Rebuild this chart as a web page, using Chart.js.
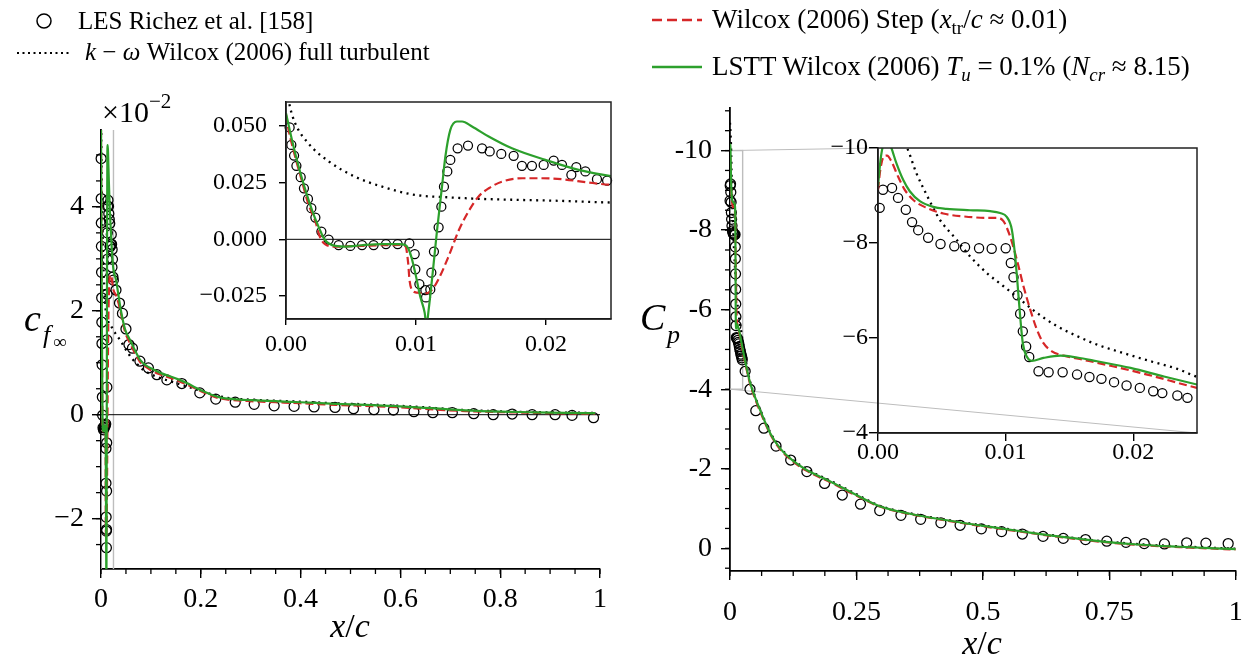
<!DOCTYPE html>
<html>
<head>
<meta charset="utf-8">
<script src="https://cdn.jsdelivr.net/npm/chart.js@4.4.0/dist/chart.umd.min.js"></script>
<style>
  html, body { margin: 0; padding: 0; background: #fff; }
  #page { position: relative; width: 1242px; height: 660px; overflow: hidden;
          font-family: 'Liberation Serif', 'DejaVu Serif', serif; color: #000; }
  canvas { position: absolute; left: 0; top: 0; }
  .t { position: absolute; white-space: nowrap; line-height: 1; }
  .leg { font-size: 25px; }
  .legr { font-size: 27px; }
  .t sub { font-size: 0.7em; vertical-align: -0.3em; line-height: 0; }
  i { font-style: italic; }
</style>
</head>
<body>
<div id="page">
  <canvas id="cfMain" width="1242" height="660"></canvas>
  <canvas id="cpMain" width="1242" height="660"></canvas>
  <canvas id="cfInset" width="1242" height="660"></canvas>
  <canvas id="cpInset" width="1242" height="660"></canvas>

  <!-- legend markers -->
  <svg style="position:absolute;left:0;top:0" width="1242" height="90">
    <circle cx="44" cy="21" r="7" fill="none" stroke="#000" stroke-width="1.5"/>
    <line x1="17" y1="53" x2="72" y2="53" stroke="#000" stroke-width="2.2" stroke-dasharray="2 3.5"/>
    <line x1="652" y1="20" x2="702" y2="20" stroke="#d62728" stroke-width="2.4" stroke-dasharray="10 5"/>
    <line x1="652" y1="67" x2="702" y2="67" stroke="#2ca02c" stroke-width="2.4"/>
  </svg>
  <div class="t leg" style="left:78px;top:8px">LES Richez et al. [158]</div>
  <div class="t leg" style="left:85px;top:39px"><i>k</i> − <i>ω</i> Wilcox (2006) full turbulent</div>
  <div class="t legr" style="left:712px;top:6px">Wilcox (2006) Step (<i>x</i><sub>tr</sub>/<i>c</i> ≈ 0.01)</div>
  <div class="t legr" style="left:712px;top:53px">LSTT Wilcox (2006) <i>T<sub>u</sub></i> = 0.1% (<i>N<sub>cr</sub></i> ≈ 8.15)</div>

  <!-- axis titles -->
  <div class="t" style="left:102px;top:97px;font-size:30px">×10</div>
  <div class="t" style="left:149px;top:91px;font-size:21px">−2</div>
  <div class="t" style="left:24px;top:299px;font-size:38px"><i>c</i></div>
  <div class="t" style="left:43px;top:322px;font-size:26px"><i>f</i></div>
  <div class="t" style="left:53px;top:332px;font-size:19px">∞</div>
  <div class="t" style="left:640px;top:298px;font-size:38px"><i>C</i></div>
  <div class="t" style="left:667px;top:322px;font-size:26px"><i>p</i></div>
  <div class="t" style="left:350px;top:609px;font-size:34px;transform:translateX(-50%)"><i>x</i>/<i>c</i></div>
  <div class="t" style="left:982px;top:626px;font-size:34px;transform:translateX(-50%)"><i>x</i>/<i>c</i></div>
</div>

<script>
// ---------- skin friction c_f (real units) vs x/c ----------
const cfLesX = [0.00028, 0.00041, 0.00062, 0.0008, 0.00113, 0.00138, 0.00169, 0.00195, 0.00226, 0.00272,
  0.00328, 0.00405, 0.00495, 0.00585, 0.00674, 0.00769, 0.00859, 0.00949, 0.0099, 0.00995,
  0.01026, 0.01072, 0.01077, 0.0111, 0.01118, 0.01138, 0.01174, 0.01195, 0.01215, 0.01241,
  0.01264, 0.0132, 0.014, 0.01508, 0.01567, 0.01656, 0.01751, 0.01815, 0.01892, 0.01982,
  0.02059, 0.02123, 0.02195, 0.02233, 0.02303, 0.02392, 0.0247,
  0.03, 0.037, 0.043, 0.05, 0.056, 0.063, 0.078, 0.095, 0.112, 0.132, 0.162, 0.198, 0.23, 0.269,
  0.307, 0.347, 0.387, 0.427, 0.469, 0.506, 0.547, 0.586, 0.627, 0.665, 0.704, 0.747, 0.786,
  0.824, 0.864, 0.91, 0.944, 0.987];
const cfLesY = [0.0493, 0.0416, 0.0369, 0.0324, 0.0274, 0.0225, 0.0178, 0.0137, 0.0096, 0.0034,
  -0.0001, -0.0025, -0.0029, -0.0025, -0.0025, -0.0021, -0.0021, -0.0018, -0.0065, -0.0132,
  -0.0197, -0.0224, -0.0256, -0.0221, -0.0147, -0.0054, 0.0053, 0.0144, 0.0232, 0.0299,
  0.035, 0.0401, 0.0413, 0.0401, 0.0387, 0.0376, 0.0368, 0.0324, 0.0324, 0.0328,
  0.0347, 0.0328, 0.0284, 0.0318, 0.0299, 0.0265, 0.0259,
  0.024, 0.0215, 0.0195, 0.0165, 0.0135, 0.0128, 0.0103, 0.009, 0.0077, 0.0067, 0.006, 0.0042, 0.003, 0.0024,
  0.002, 0.0017, 0.0016, 0.0015, 0.0014, 0.00115, 0.00096, 0.0009, 0.00058, 0.00038, 0.00038, 0.00019, 0.0,
  0.00013, 0.0, 0.0, -0.00013, -0.00058];

const cfLsttX = [0, 0.00046, 0.00097, 0.00149, 0.002, 0.0025, 0.003, 0.0038, 0.0046, 0.0058,
  0.0074, 0.0087, 0.0092, 0.00956, 0.00995, 0.01033, 0.01067, 0.0108, 0.01097, 0.01128,
  0.01162, 0.012, 0.01226, 0.01264, 0.01315, 0.01354, 0.01431, 0.01559, 0.01738, 0.01995,
  0.02251, 0.025,
  0.03, 0.035, 0.04, 0.048, 0.058, 0.07, 0.078, 0.09, 0.105, 0.12, 0.138, 0.155, 0.172, 0.19,
  0.205, 0.22, 0.24, 0.265, 0.3, 0.35, 0.4, 0.47, 0.53, 0.6, 0.67, 0.73, 0.8, 0.87, 0.93, 0.99];
const cfLsttY = [0.0556, 0.0438, 0.0321, 0.0218, 0.0129, 0.0056, -0.0003, -0.0029, -0.0032, -0.0026,
  -0.0021, -0.0021, -0.0026, -0.0062, -0.015, -0.0253, -0.0324, -0.038, -0.0312, -0.015,
  0.0041, 0.0232, 0.0365, 0.0482, 0.0519, 0.0519, 0.0497, 0.0453, 0.0401, 0.035,
  0.0306, 0.0279,
  0.026, 0.023, 0.02, 0.0165, 0.0144, 0.012, 0.0106, 0.0095, 0.0087, 0.008, 0.0074, 0.0068, 0.0061, 0.0052,
  0.0045, 0.0039, 0.0033, 0.003, 0.0028, 0.0026, 0.0024, 0.0021, 0.0019, 0.0016, 0.0012, 0.00085, 0.0006,
  0.00045, 0.00035, 0.0003];

const cfStepX = [0, 0.0002, 0.0007, 0.0012, 0.0017, 0.0023, 0.0026, 0.003, 0.0038, 0.0058,
  0.0074, 0.0089, 0.0092, 0.0094, 0.0095, 0.0097, 0.0101, 0.0107, 0.0112, 0.0117,
  0.0125, 0.0133, 0.0141, 0.0148, 0.0156, 0.0166, 0.0182, 0.0197, 0.0212, 0.0233, 0.025,
  0.03, 0.035, 0.04, 0.048, 0.058, 0.07, 0.078, 0.09, 0.105, 0.12, 0.138, 0.155, 0.172, 0.19,
  0.205, 0.22, 0.24, 0.265, 0.3, 0.35, 0.4, 0.47, 0.53, 0.6, 0.67, 0.73, 0.8, 0.87, 0.93, 0.99];
const cfStepY = [0.0549, 0.0482, 0.0365, 0.0262, 0.0159, 0.0071, 0.0012, -0.0021, -0.0032, -0.0029,
  -0.0026, -0.0025, -0.0032, -0.0106, -0.0179, -0.0224, -0.0235, -0.0238, -0.0224, -0.0179,
  -0.0076, 0.0041, 0.0129, 0.0188, 0.0225, 0.0254, 0.0269, 0.0269, 0.0265, 0.025, 0.024,
  0.023, 0.0215, 0.0195, 0.016, 0.0138, 0.0115, 0.0102, 0.0092, 0.0083, 0.0077, 0.0071, 0.0065, 0.0058, 0.005,
  0.0043, 0.0037, 0.0031, 0.0028, 0.0026, 0.0024, 0.0022, 0.0019, 0.0017, 0.0014, 0.001, 0.0007, 0.0005,
  0.00035, 0.00025, 0.0002];

const cfFullX = [0, 0.0003, 0.0007, 0.0017, 0.0033, 0.0053, 0.0074, 0.0099, 0.0125, 0.0151,
  0.0176, 0.0202, 0.0228, 0.025,
  0.03, 0.038, 0.05, 0.062, 0.075, 0.085, 0.1, 0.12, 0.14, 0.16, 0.18, 0.2, 0.22, 0.24, 0.265,
  0.3, 0.35, 0.4, 0.47, 0.53, 0.6, 0.67, 0.73, 0.8, 0.87, 0.93, 0.99];
const cfFullY = [0.068, 0.0585, 0.0512, 0.0424, 0.0343, 0.0276, 0.0232, 0.0196, 0.0185, 0.0178,
  0.0174, 0.0171, 0.0166, 0.0162,
  0.0155, 0.0144, 0.0125, 0.0108, 0.0095, 0.0086, 0.0078, 0.007, 0.0064, 0.0058, 0.0052, 0.0046, 0.004,
  0.0035, 0.0031, 0.0029, 0.0027, 0.0025, 0.0022, 0.002, 0.0017, 0.0013, 0.0009, 0.00065, 0.0005,
  0.0004, 0.00035];

// ---------- pressure coefficient C_p vs x/c ----------
const cpLesX = [0.00013, 0.00039, 0.0011, 0.00157, 0.00218, 0.00267, 0.00315, 0.00393, 0.0049, 0.00598,
  0.00682, 0.00792, 0.00891, 0.01001, 0.01041, 0.01062, 0.01093, 0.01114, 0.01135, 0.01161,
  0.01185, 0.01258, 0.01337, 0.01447, 0.0156, 0.01657, 0.01751, 0.0185, 0.01948, 0.02052,
  0.02157, 0.02228, 0.02346, 0.02425,
  0.03, 0.0395, 0.051, 0.067, 0.091, 0.12, 0.152, 0.187, 0.222, 0.258, 0.296, 0.338, 0.377, 0.417,
  0.455, 0.497, 0.537, 0.578, 0.619, 0.659, 0.703, 0.745, 0.783, 0.819, 0.859, 0.903, 0.941, 0.985];
const cpLesY = [-8.74, -9.12, -9.16, -8.95, -8.70, -8.44, -8.27, -8.11, -7.98, -7.93,
  -7.91, -7.89, -7.88, -7.89, -7.58, -7.28, -6.90, -6.51, -6.14, -5.82,
  -5.60, -5.30, -5.28, -5.28, -5.23, -5.18, -5.14, -5.07, -5.0, -4.95,
  -4.88, -4.84, -4.79, -4.74,
  -4.45, -4.0, -3.46, -3.02, -2.57, -2.22, -1.93, -1.63, -1.34, -1.11, -0.95, -0.83, -0.73, -0.64,
  -0.58, -0.49, -0.42, -0.36, -0.30, -0.25, -0.22, -0.18, -0.15, -0.12, -0.11, -0.14, -0.13, -0.12];

const cpLsttX = [0, 0.0002, 0.0004, 0.0008, 0.00105, 0.00144, 0.00197, 0.00249, 0.00328, 0.00433,
  0.00537, 0.00721, 0.00878, 0.00957, 0.01009, 0.01049, 0.01075, 0.01093, 0.01114, 0.01135,
  0.01166, 0.01206, 0.01297, 0.01429, 0.0156, 0.01717, 0.01979, 0.02241, 0.025,
  0.03, 0.04, 0.05, 0.06, 0.08, 0.1, 0.125, 0.15, 0.2, 0.244, 0.296, 0.356, 0.432, 0.508,
  0.585, 0.661, 0.737, 0.813, 0.889, 0.96, 1.0];
const cpLsttY = [-9.2, -9.75, -10.05, -10.15, -10.0, -9.68, -9.33, -9.09, -8.88, -8.76,
  -8.72, -8.69, -8.67, -8.63, -8.55, -8.28, -7.72, -7.16, -6.46, -5.89,
  -5.61, -5.52, -5.58, -5.63, -5.59, -5.51, -5.37, -5.19, -5.02,
  -4.7, -4.15, -3.78, -3.46, -2.88, -2.5, -2.2, -1.98, -1.67, -1.38, -1.06, -0.87, -0.7, -0.55,
  -0.41, -0.28, -0.17, -0.09, -0.04, 0.0, 0.02];

const cpStepX = [0, 0.00018, 0.00045, 0.00071, 0.00105, 0.00157, 0.0021, 0.00275, 0.0038, 0.00511,
  0.00668, 0.00852, 0.0093, 0.00983, 0.01035, 0.01088, 0.0114, 0.01193, 0.01245, 0.01297,
  0.01363, 0.01455, 0.01612, 0.01848, 0.0211, 0.025,
  0.03, 0.04, 0.05, 0.06, 0.08, 0.1, 0.125, 0.15, 0.2, 0.244, 0.296, 0.356, 0.432, 0.508,
  0.585, 0.661, 0.737, 0.813, 0.889, 0.96, 1.0];
const cpStepY = [-9.12, -9.54, -9.82, -9.84, -9.72, -9.4, -9.12, -8.91, -8.74, -8.62,
  -8.56, -8.53, -8.53, -8.46, -8.14, -7.65, -7.09, -6.6, -6.18, -5.89,
  -5.72, -5.63, -5.54, -5.4, -5.23, -4.95,
  -4.66, -4.12, -3.75, -3.43, -2.86, -2.48, -2.18, -1.96, -1.65, -1.36, -1.05, -0.86, -0.69, -0.54,
  -0.4, -0.27, -0.16, -0.08, -0.03, 0.01, 0.03];

const cpFullX = [0, 0.001, 0.0018, 0.00228, 0.00301, 0.0038, 0.00485, 0.00616, 0.00721, 0.00852,
  0.00983, 0.01114, 0.01245, 0.01402, 0.0156, 0.01717, 0.01927, 0.02136, 0.02346, 0.025,
  0.03, 0.04, 0.05, 0.06, 0.08, 0.1, 0.125, 0.15, 0.2, 0.244, 0.296, 0.356, 0.432, 0.508,
  0.585, 0.661, 0.737, 0.813, 0.889, 0.96, 1.0];
const cpFullY = [-10.7, -10.45, -10.2, -10.0, -9.47, -9.02, -8.49, -8.07, -7.72, -7.37,
  -7.09, -6.81, -6.53, -6.25, -6.04, -5.86, -5.68, -5.51, -5.35, -5.18,
  -4.8, -4.18, -3.8, -3.48, -2.9, -2.52, -2.22, -2.0, -1.69, -1.4, -1.07, -0.88, -0.71, -0.56,
  -0.42, -0.29, -0.18, -0.1, -0.05, -0.01, 0.01];

// ---------- ticks ----------
const cfMainXTicks = [0, 0.2, 0.4, 0.6, 0.8, 1];
const cfMainXLabels = ['0', '0.2', '0.4', '0.6', '0.8', '1'];
const cfMainYTicks = [-2, 0, 2, 4];
const cfMainYLabels = ['−2', '0', '2', '4'];
const cfInsetXTicks = [0, 0.01, 0.02];
const cfInsetXLabels = ['0.00', '0.01', '0.02'];
const cfInsetYTicks = [-0.025, 0, 0.025, 0.05];
const cfInsetYLabels = ['−0.025', '0.000', '0.025', '0.050'];
const cpMainXTicks = [0, 0.25, 0.5, 0.75, 1];
const cpMainXLabels = ['0', '0.25', '0.5', '0.75', '1'];
const cpMainYTicks = [-10, -8, -6, -4, -2, 0];
const cpMainYLabels = ['-10', '-8', '-6', '-4', '-2', '0'];
const cpInsetXTicks = [0, 0.01, 0.02];
const cpInsetXLabels = ['0.00', '0.01', '0.02'];
const cpInsetYTicks = [-10, -8, -6, -4];
const cpInsetYLabels = ['−10', '−8', '−6', '−4'];

// ---------- layout ----------
const W = 1242, H = 660;
const SERIF = "'Liberation Serif', 'DejaVu Serif', serif";
const GREEN = '#2ca02c', RED = '#d62728', GREY = '#bdbdbd';
const BOX_CF = { l: 101, t: 130, r: 600, b: 569 };
const BOX_CF_IN = { l: 286, t: 102, r: 611, b: 319 };
const BOX_CP = { l: 730, t: 108, r: 1236, b: 571 };
const BOX_CP_IN = { l: 878, t: 148, r: 1197, b: 433 };

function steps(a, b, s) {
  const out = [];
  for (let v = a; v <= b + 1e-9; v += s) out.push(+v.toFixed(6));
  return out;
}
function pts(xs, ys, k) { return xs.map((x, i) => ({ x, y: ys[i] * k })); }

function lineSet(label, xs, ys, k, color, width, dash) {
  return { label, data: pts(xs, ys, k), showLine: true, borderColor: color, borderWidth: width,
    borderDash: dash, pointRadius: 0, pointHoverRadius: 0, fill: false, clip: 0,
    cubicInterpolationMode: 'monotone' };
}
function lesSet(xs, ys, k, r) {
  return { label: 'LES Richez et al. [158]', data: pts(xs, ys, k), showLine: false, pointRadius: r,
    pointBorderWidth: 1.25, pointBorderColor: '#000', pointBackgroundColor: 'rgba(0,0,0,0)',
    borderColor: '#000', clip: false };
}
function seriesFor(set, k, r, lw) {
  return [
    lineSet('LSTT', set.lstt[0], set.lstt[1], k, GREEN, lw, []),
    lineSet('Step', set.step[0], set.step[1], k, RED, lw, [8, 4]),
    lineSet('Full turbulent', set.full[0], set.full[1], k, '#000', 2.3, [2, 4.5]),
    lesSet(set.les[0], set.les[1], k, r)
  ];
}

function axis(a, horizontal, size) {
  return {
    type: 'linear', min: a.min, max: a.max, reverse: !!a.reverse,
    afterBuildTicks: s => { s.ticks = a.ticks.map(v => ({ value: v })); },
    afterFit: s => {
      if (horizontal) s.height = size; else s.width = size;
      s.paddingLeft = s.paddingRight = s.paddingTop = s.paddingBottom = 0;
    },
    ticks: { autoSkip: false, maxRotation: 0, minRotation: 0, padding: a.pad, color: '#000',
      font: { family: SERIF, size: a.font, lineHeight: 1 },
      callback: (v, i) => a.labels[i] },
    grid: { drawOnChartArea: false, drawTicks: true, tickLength: a.tick, color: '#000', lineWidth: 1.4 },
    border: { display: true, color: '#000', width: a.border || 1.6 }
  };
}

function extras(o) {
  return {
    id: 'extras',
    beforeDatasetsDraw(chart) {
      const { ctx, chartArea: a } = chart;
      const x = chart.scales.x, y = chart.scales.y;
      ctx.save();
      if (o.connect) {
        ctx.strokeStyle = GREY; ctx.lineWidth = 1;
        o.connect.forEach(c => {
          ctx.beginPath();
          ctx.moveTo(x.getPixelForValue(c.x), y.getPixelForValue(c.y));
          ctx.lineTo(c.px, c.py);
          ctx.stroke();
        });
      }
      ctx.beginPath();
      ctx.rect(a.left, a.top, a.right - a.left, a.bottom - a.top);
      ctx.clip();
      if (o.zoomRect) {
        const r = o.zoomRect;
        const x0 = x.getPixelForValue(r.x0), x1 = x.getPixelForValue(r.x1);
        const y0 = y.getPixelForValue(r.y0), y1 = y.getPixelForValue(r.y1);
        ctx.strokeStyle = GREY; ctx.lineWidth = 1.4;
        ctx.strokeRect(Math.min(x0, x1), Math.min(y0, y1), Math.abs(x1 - x0), Math.abs(y1 - y0));
      }
      if (o.zeroLine) {
        const py = y.getPixelForValue(0);
        ctx.strokeStyle = '#000'; ctx.lineWidth = 1;
        ctx.beginPath(); ctx.moveTo(a.left, py); ctx.lineTo(a.right, py); ctx.stroke();
      }
      ctx.restore();
    },
    afterDraw(chart) {
      const { ctx, chartArea: a } = chart;
      const x = chart.scales.x, y = chart.scales.y;
      ctx.save();
      ctx.strokeStyle = '#000'; ctx.lineWidth = 1.3;
      (o.x.minor || []).forEach(v => {
        if (v < x.min || v > x.max) return;
        const px = x.getPixelForValue(v);
        ctx.beginPath(); ctx.moveTo(px, a.bottom); ctx.lineTo(px, a.bottom + o.x.minorLen); ctx.stroke();
      });
      (o.y.minor || []).forEach(v => {
        if (v < y.min || v > y.max) return;
        const py = y.getPixelForValue(v);
        ctx.beginPath(); ctx.moveTo(a.left - o.y.minorLen, py); ctx.lineTo(a.left, py); ctx.stroke();
      });
      if (o.frame) {
        ctx.strokeStyle = '#222'; ctx.lineWidth = o.frame;
        ctx.strokeRect(a.left, a.top, a.right - a.left, a.bottom - a.top);
      }
      ctx.restore();
    }
  };
}

function makeChart(id, box, o) {
  return new Chart(document.getElementById(id), {
    type: 'scatter',
    data: { datasets: o.datasets },
    options: {
      responsive: false, animation: false, devicePixelRatio: 1, events: [],
      layout: { padding: { left: box.l - o.yW, top: box.t, right: W - box.r, bottom: H - box.b - o.xH } },
      plugins: { legend: { display: false }, tooltip: { enabled: false } },
      scales: { x: axis(o.x, true, o.xH), y: axis(o.y, false, o.yW) }
    },
    plugins: [extras(o)]
  });
}

const cfSet = { les: [cfLesX, cfLesY], lstt: [cfLsttX, cfLsttY], step: [cfStepX, cfStepY], full: [cfFullX, cfFullY] };
const cpSet = { les: [cpLesX, cpLesY], lstt: [cpLsttX, cpLsttY], step: [cpStepX, cpStepY], full: [cpFullX, cpFullY] };

// c_f main panel (plotted in units of 1e-2)
makeChart('cfMain', BOX_CF, {
  yW: 70, xH: 60,
  x: { min: 0, max: 1, ticks: cfMainXTicks, labels: cfMainXLabels, font: 28, pad: 8, tick: 9,
       minor: steps(0, 1, 0.05), minorLen: 5, border: 1.8 },
  y: { min: -2.97, max: 5.48, ticks: cfMainYTicks, labels: cfMainYLabels, font: 28, pad: 8, tick: 9,
       minor: steps(-3, 5.5, 0.5), minorLen: 5, border: 1.8 },
  zeroLine: true,
  zoomRect: { x0: 0, x1: 0.025, y0: -3.51, y1: 6.05 },
  datasets: seriesFor(cfSet, 100, 5, 2.2)
});

// C_p main panel
makeChart('cpMain', BOX_CP, {
  yW: 80, xH: 60,
  x: { min: 0, max: 1, ticks: cpMainXTicks, labels: cpMainXLabels, font: 28, pad: 19, tick: 9,
       minor: steps(0, 1, 0.0625), minorLen: 5, border: 1.8 },
  y: { min: -11.07, max: 0.57, reverse: true, ticks: cpMainYTicks, labels: cpMainYLabels, font: 28, pad: 9, tick: 9,
       minor: steps(-11, 0.5, 0.5), minorLen: 5, border: 1.8 },
  zoomRect: { x0: 0, x1: 0.025, y0: -10, y1: -4 },
  connect: [ { x: 0, y: -10, px: BOX_CP_IN.l, py: BOX_CP_IN.t },
             { x: 0, y: -4, px: BOX_CP_IN.r, py: BOX_CP_IN.b } ],
  datasets: seriesFor(cpSet, 1, 5, 2.2)
});

// c_f inset
makeChart('cfInset', BOX_CF_IN, {
  yW: 100, xH: 40,
  x: { min: 0, max: 0.025, ticks: cfInsetXTicks, labels: cfInsetXLabels, font: 24, pad: 8, tick: 6, border: 1.5 },
  y: { min: -0.0351, max: 0.0605, ticks: cfInsetYTicks, labels: cfInsetYLabels, font: 24, pad: 12, tick: 7, border: 1.5 },
  zeroLine: true, frame: 1.5,
  datasets: seriesFor(cfSet, 1, 4.5, 2.2)
});

// C_p inset
makeChart('cpInset', BOX_CP_IN, {
  yW: 60, xH: 40,
  x: { min: 0, max: 0.025, ticks: cpInsetXTicks, labels: cpInsetXLabels, font: 24, pad: 0, tick: 8, border: 1.5 },
  y: { min: -10, max: -4, reverse: true, ticks: cpInsetYTicks, labels: cpInsetYLabels, font: 24, pad: 1, tick: 9, border: 1.5 },
  frame: 1.5,
  datasets: seriesFor(cpSet, 1, 4.6, 2.2)
});
</script>
</body>
</html>
